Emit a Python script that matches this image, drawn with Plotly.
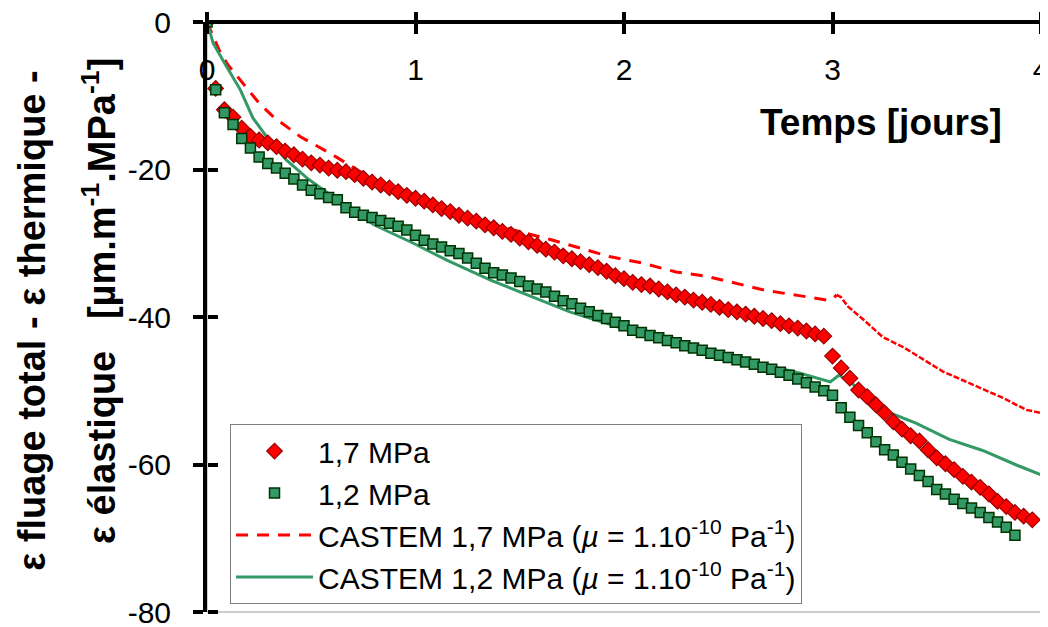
import plotly.graph_objects as go

# ---------------- data ----------------
hours_17 = list(range(0, 96))
mes_17 = [0, -9.0, -11.9, -12.9, -14.4, -15.5, -16.0, -16.4, -16.9, -17.5,
          -18.0, -18.6, -19.1, -19.4, -19.8, -20.1, -20.3, -20.7, -21.2, -21.7,
          -22.1, -22.5, -23.0, -23.5, -23.9, -24.3, -24.8, -25.3, -25.7, -26.2,
          -26.6, -27.0, -27.5, -27.9, -28.4, -28.8, -29.3, -29.8, -30.3, -30.8,
          -31.2, -31.7, -32.1, -32.5, -32.9, -33.3, -33.8, -34.4, -34.8, -35.3,
          -35.6, -35.8, -36.2, -36.6, -37.0, -37.3, -37.7, -38.0, -38.3, -38.7,
          -39.0, -39.3, -39.6, -39.9, -40.2, -40.5, -40.9, -41.2, -41.5, -41.9,
          -42.3, -42.6, -45.3, -46.9, -48.3, -49.9, -50.8, -51.9, -53.0, -54.2,
          -55.2, -56.1, -56.8, -58.0, -59.1, -59.9, -60.7, -61.6, -62.4, -63.1,
          -64.0, -65.0, -65.7, -66.5, -67.0, -67.5]

hours_12 = list(range(0, 94))
mes_12 = [0, -9.2, -12.3, -13.9, -15.8, -17.1, -18.3, -19.2, -19.8, -20.5,
          -21.3, -22.1, -22.8, -23.3, -23.8, -24.1, -25.2, -25.8, -26.2, -26.5,
          -26.9, -27.3, -27.7, -28.2, -28.9, -29.6, -30.1, -30.5, -31.0, -31.4,
          -32.0, -32.7, -33.4, -34.0, -34.3, -34.7, -35.2, -35.8, -36.2, -36.6,
          -37.2, -37.8, -38.2, -38.8, -39.3, -39.8, -40.2, -40.7, -41.2, -41.8,
          -42.1, -42.5, -42.8, -43.2, -43.5, -43.9, -44.2, -44.5, -44.9, -45.2,
          -45.5, -45.8, -46.1, -46.4, -46.8, -47.1, -47.5, -47.9, -48.4, -48.9,
          -49.5, -50.0, -50.6, -52.3, -53.6, -54.7, -55.7, -56.9, -58.0, -58.7,
          -59.7, -60.6, -61.5, -62.3, -63.4, -64.0, -64.7, -65.3, -65.9, -66.5,
          -67.2, -67.8, -68.5, -69.6]

castem17_t = [0, 0.03, 0.06, 0.10, 0.16, 0.25, 0.32, 0.45, 0.59, 0.73, 0.9, 1.1,
              1.3, 1.47, 1.66, 1.80, 1.93, 2.09, 2.25, 2.40, 2.54, 2.68, 2.84,
              2.97, 3.0, 3.02, 3.04, 3.075, 3.15, 3.24, 3.34, 3.53, 3.66, 3.82,
              3.93, 4.0]
castem17_v = [0, -2.0, -3.9, -5.8, -7.9, -11.0, -12.9, -15.6, -17.8, -20.2, -22.7,
              -24.9, -26.8, -28.2, -29.6, -30.7, -31.8, -32.7, -33.9, -34.5, -35.4,
              -36.4, -37.1, -37.7, -37.6, -37.0, -37.3, -38.6, -40.4, -42.7, -44.1,
              -47.4, -49.0, -51.0, -52.6, -53.0]

castem12_t = [0, 0.01, 0.03, 0.095, 0.16, 0.22, 0.29, 0.38, 0.49, 0.60, 0.80, 0.99,
              1.15, 1.36, 1.56, 1.74, 1.885, 2.1, 2.4, 2.685, 2.84, 2.99, 3.03,
              3.08, 3.16, 3.24, 3.40, 3.56, 3.72, 3.885, 4.0]
castem12_v = [0, -1.1, -2.9, -6.1, -9.2, -13.0, -15.7, -18.7, -21.4, -23.6, -27.5,
              -30.0, -32.3, -35.0, -37.3, -39.3, -40.6, -42.5, -44.6, -46.5, -47.6,
              -48.8, -47.9, -48.6, -50.8, -52.6, -54.4, -56.6, -58.1, -60.1, -61.4]

x_ticks = [0, 1, 2, 3, 4]
y_ticks = [0, -20, -40, -60, -80]

names = ["1,7 MPa", "1,2 MPa",
         "CASTEM 1,7 MPa (<i>µ</i> = 1.10<sup>-10</sup> Pa<sup>-1</sup>)",
         "CASTEM 1,2 MPa (<i>µ</i> = 1.10<sup>-10</sup> Pa<sup>-1</sup>)"]

# ---------------- figure ----------------
FONT = "Liberation Sans, Arial, sans-serif"
RED = "#FF0000"
GREEN = "#339966"

t17 = [h / 24 for h in hours_17]
t12 = [h / 24 for h in hours_12]

split = castem17_t.index(3.02)

fig = go.Figure()
# lines first (drawn below the markers)
fig.add_trace(go.Scatter(x=castem17_t[:split + 1], y=castem17_v[:split + 1],
                         mode="lines", name=names[2], legendrank=3,
                         line=dict(color=RED, width=3, dash="12px,9px")))
fig.add_trace(go.Scatter(x=castem17_t[split:], y=castem17_v[split:],
                         mode="lines", showlegend=False,
                         line=dict(color=RED, width=2.5, dash="6px,2px")))
fig.add_trace(go.Scatter(x=castem12_t, y=castem12_v, mode="lines", name=names[3],
                         legendrank=4, line=dict(color=GREEN, width=3)))
fig.add_trace(go.Scatter(x=t17, y=mes_17, mode="markers", name=names[0], legendrank=1,
                         marker=dict(symbol="diamond", size=12, color=RED,
                                     line=dict(color="#990000", width=1.2))))
fig.add_trace(go.Scatter(x=t12, y=mes_12, mode="markers", name=names[1], legendrank=2,
                         marker=dict(symbol="square", size=10, color=GREEN,
                                     line=dict(color="#003300", width=1.5))))
# empty trace carrying the overlay axes (cross ticks)
fig.add_trace(go.Scatter(x=[], y=[], xaxis="x2", yaxis="y2", showlegend=False,
                         hoverinfo="skip"))

# page body has an 8px margin: figure is 1040x619, plot area at window 207..1041 / 22..612
fig.update_layout(
    width=1040, height=619,
    margin=dict(l=199, r=7, t=14, b=15, autoexpand=False),
    paper_bgcolor="white", plot_bgcolor="white",
    font=dict(family=FONT, size=30, color="black"),
    showlegend=True,
    legend=dict(x=0.0276, y=0.3186, xanchor="left", yanchor="top",
                bgcolor="white", bordercolor="#808080", borderwidth=1,
                font=dict(size=30), itemwidth=77, tracegroupgap=0),
    xaxis=dict(range=[0, 4], anchor="free", position=1, side="bottom",
               tickvals=x_ticks, ticktext=[str(v) for v in x_ticks],
               showline=True, linecolor="black", linewidth=4,
               ticks="outside", ticklen=10, tickwidth=4, tickcolor="black",
               ticklabelstandoff=10, ticklabeloverflow="allow",
               showgrid=False, zeroline=False, automargin=False,
               tickfont=dict(size=30)),
    xaxis2=dict(range=[0, 4], overlaying="x", anchor="free", position=1, side="top",
                tickvals=x_ticks, showticklabels=False, showline=False,
                ticks="outside", ticklen=10, tickwidth=4, tickcolor="black",
                showgrid=False, zeroline=False, automargin=False),
    yaxis=dict(range=[-80, 0], side="left",
               tickvals=y_ticks, ticktext=[str(v) for v in y_ticks],
               showline=True, linecolor="black", linewidth=4,
               ticks="outside", ticklen=10, tickwidth=4, tickcolor="black",
               ticklabelstandoff=16, ticklabeloverflow="allow",
               showgrid=False, zeroline=False, automargin=False,
               tickfont=dict(size=30)),
    yaxis2=dict(range=[-80, 0], overlaying="y", anchor="free", position=0, side="right",
                tickvals=y_ticks, showticklabels=False, showline=False,
                ticks="outside", ticklen=10, tickwidth=4, tickcolor="black",
                showgrid=False, zeroline=False, automargin=False),
    shapes=[dict(type="rect", xref="paper", yref="paper", x0=0, x1=1, y0=0, y1=1,
                 line=dict(color="#9a9a9a", width=1), layer="below")],
    annotations=[
        dict(text="<b>Temps [jours]</b>", xref="paper", yref="paper",
             x=0.808, y=0.8305, xanchor="center", yanchor="middle",
             showarrow=False, font=dict(size=37, family=FONT)),
        dict(text="<b>ε fluage total - ε thermique -</b>", xref="paper", yref="paper",
             x=(32 - 207) / 834, y=0.4935, xanchor="center", yanchor="middle",
             textangle=-90, showarrow=False, font=dict(size=38, family=FONT)),
        dict(text="<b>ε élastique\u00a0\u00a0\u00a0[µm.m<sup>-1</sup>.MPa<sup>-1</sup>]</b>",
             xref="paper", yref="paper",
             x=(99 - 207) / 834, y=0.527, xanchor="center", yanchor="middle",
             textangle=-90, showarrow=False, font=dict(size=38, family=FONT)),
    ],
)

fig.write_html("out.html")
